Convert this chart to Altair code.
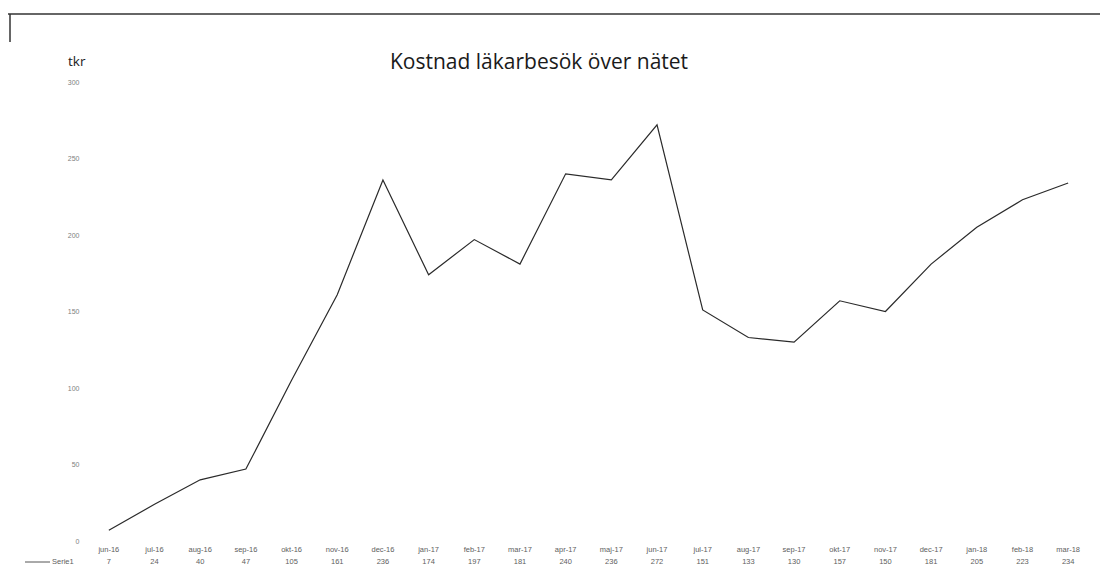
import altair as alt
import pandas as pd

months = ["jun-16", "jul-16", "aug-16", "sep-16", "okt-16", "nov-16", "dec-16",
          "jan-17", "feb-17", "mar-17", "apr-17", "maj-17", "jun-17", "jul-17",
          "aug-17", "sep-17", "okt-17", "nov-17", "dec-17", "jan-18", "feb-18", "mar-18"]
values = [7, 24, 40, 47, 105, 161, 236, 174, 197, 181, 240, 236, 272, 151,
          133, 130, 157, 150, 181, 205, 223, 234]
y_ticks = [0, 50, 100, 150, 200, 250, 300]
series_name = "Serie1"
title_text = "Kostnad läkarbesök över nätet"
unit_text = "tkr"

df = pd.DataFrame({"month": months, "value": values})

W, H = 1005, 459
FONT = "Open Sans"
SMALL = "Liberation Sans"
GREY = "#5e5e5e"
ROW_Y = 480

x_enc = alt.X("month:N", sort=months,
              scale=alt.Scale(type="band", paddingInner=0, paddingOuter=0),
              axis=alt.Axis(title=None, domain=False, ticks=False, grid=False,
                            labelAngle=0, labelFont=SMALL, labelFontSize=7.5,
                            labelColor=GREY, labelPadding=4))

line = alt.Chart(df).mark_line(color="#2a2a2a", strokeWidth=1.2).encode(
    x=x_enc,
    y=alt.Y("value:Q", scale=alt.Scale(domain=[0, 300], nice=False, zero=True),
            axis=alt.Axis(title=None, values=y_ticks, domain=False, ticks=False,
                          grid=False, labelFont=SMALL, labelFontSize=7,
                          labelColor="#808080", labelPadding=7)),
)

vals = alt.Chart(df).mark_text(font=SMALL, fontSize=7.5, color=GREY,
                               baseline="middle").encode(
    x=alt.X("month:N", sort=months),
    y=alt.value(ROW_Y),
    text="value:Q",
)

leg = pd.DataFrame({"name": [series_name]})
leg_rule = alt.Chart(leg).mark_rule(color="#555555", strokeWidth=1).encode(
    x=alt.value(-61), x2=alt.value(-36), y=alt.value(ROW_Y))
leg_text = alt.Chart(leg).mark_text(font=SMALL, fontSize=7.5, color=GREY,
                                    align="left", baseline="middle").encode(
    x=alt.value(-34), y=alt.value(ROW_Y), text="name:N")

tdf = pd.DataFrame({"t": [title_text]})
title = alt.Chart(tdf).mark_text(font=FONT, fontSize=21, color="#1a1a1a",
                                 align="center", baseline="middle").encode(
    x=alt.value(453), y=alt.value(-19), text="t:N")

udf = pd.DataFrame({"t": [unit_text]})
unit = alt.Chart(udf).mark_text(font=FONT, fontSize=13.5, color="#1a1a1a",
                                align="left", baseline="middle").encode(
    x=alt.value(-18), y=alt.value(-20), text="t:N")

fdf = pd.DataFrame({"f": [1]})
frame_top = alt.Chart(fdf).mark_rule(color="#333333", strokeWidth=1.3).encode(
    x=alt.value(-78), x2=alt.value(1014), y=alt.value(-68))
frame_left = alt.Chart(fdf).mark_rule(color="#333333", strokeWidth=1.5).encode(
    x=alt.value(-76), y=alt.value(-68), y2=alt.value(-40))

chart = alt.layer(line, vals, leg_rule, leg_text, title, unit, frame_top, frame_left).properties(
    width=W, height=H,
    autosize=alt.AutoSizeParams(type="none"),
    padding={"left": 78, "top": 74, "right": 9, "bottom": 29},
    background="white",
).configure_view(stroke=None)

chart.save("out.html", embed_options={"renderer": "svg", "actions": False})
